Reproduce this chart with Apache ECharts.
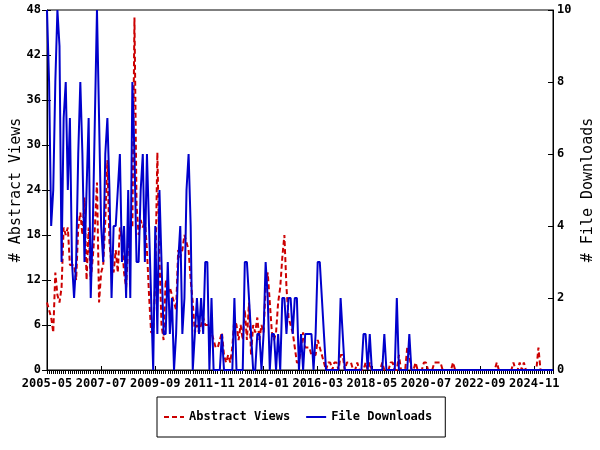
<!DOCTYPE html>
<html><head><meta charset="utf-8">
<script src="https://cdn.jsdelivr.net/npm/echarts@6/dist/echarts.min.js"></script>
<style>html,body{margin:0;padding:0;background:#fff}#c{width:600px;height:450px}</style>
</head><body><div id="c"></div>
<script>
const startYear = 2005, startMonth = 5, monthCount = 244;
const tickLabels = ['2005-05','2007-07','2009-09','2011-11','2014-01','2016-03','2018-05','2020-07','2022-09','2024-11'];
const leftTicks = [0, 6, 12, 18, 24, 30, 36, 42, 48];
const rightTicks = [0, 2, 4, 6, 8, 10];

const abstractViews = [
  9,8,7,5,13,10,9,11,19,18,
  19,14,14,14,12,19,21,18,23,12,
  19,12,15,19,25,9,13,14,20,28,
  17,14,13,16,13,19,17,13,11,17,
  19,19,47,22,18,20,19,20,16,10,
  5,5,12,29,15,6,4,12,10,11,
  10,9,8,16,15,16,18,17,16,12,
  9,5,6,5,6,7,6,6,6,5,
  4,3,3,4,5,2,1,2,1,3,
  7,6,4,6,4,8,4,9,2,6,
  5,7,4,6,5,11,13,9,5,4,
  5,9,11,15,18,11,7,6,5,3,
  1,1,3,5,3,3,3,2,2,2,
  4,3,2,1,0,1,1,0,1,1,
  0,2,2,0,1,1,1,0,0,1,
  0,0,0,1,0,1,0,0,0,0,
  0,1,0,0,0,1,1,0,0,2,
  0,0,0,3,2,0,0,1,0,0,
  0,1,1,0,0,0,1,1,1,1,
  0,0,0,0,0,1,0,0,0,0,
  0,0,0,0,0,0,0,0,0,0,
  0,0,0,0,0,0,1,0,0,0,
  0,0,0,0,1,0,0,1,0,1,
  0,0,0,0,0,0,3,0,0,0,
  0,0,0,0
];
const fileDownloads = [
  10,8,4,5,8,10,9,3,7,8,
  5,7,3,2,3,6,8,6,3,5,
  7,2,4,7,10,7,4,3,6,7,
  5,2,4,4,5,6,3,4,2,5,
  2,8,6,3,3,5,6,3,6,4,
  2,0,4,1,5,3,1,1,3,1,
  2,0,1,3,4,1,2,5,6,4,
  0,1,2,1,2,1,3,3,0,2,
  0,0,0,0,1,0,0,0,0,0,
  2,0,0,0,0,3,3,2,1,0,
  0,1,1,0,1,3,2,0,1,1,
  0,1,0,2,2,1,2,2,1,2,
  2,0,1,0,1,1,1,1,0,1,
  3,3,2,1,0,0,0,0,0,0,
  0,2,1,0,0,0,0,0,0,0,
  0,0,1,1,0,1,0,0,0,0,
  0,0,1,0,0,0,0,0,2,0,
  0,0,0,0,1,0,0,0,0,0,
  0,0,0,0,0,0,0,0,0,0,
  0,0,0,0,0,0,0,0,0,0,
  0,0,0,0,0,0,0,0,0,0,
  0,0,0,0,0,0,0,0,0,0,
  0,0,0,0,0,0,0,0,0,0,
  0,0,0,0,0,0,0,0,0,0,
  0,0,0,0
];

const months = [];
for (let k = 0; k < monthCount; k++) {
  const m = startMonth - 1 + k;
  const y = startYear + Math.floor(m / 12);
  const mm = m % 12 + 1;
  months.push(y + '-' + (mm < 10 ? '0' : '') + mm);
}

const FONT = '"DejaVu Sans Mono", monospace';
const black = '#000';
const dashIcon = 'path://M0,0 L5,0 L5,2 L0,2 Z M8,0 L13,0 L13,2 L8,2 Z M16,0 L20,0 L20,2 L16,2 Z';
const solidIcon = 'path://M0,0 L20,0 L20,2 L0,2 Z';
const chart = echarts.init(document.getElementById('c'), null, {renderer: 'canvas'});
chart.setOption({
  animation: false,
  backgroundColor: '#fff',
  grid: {left: 47, right: 47, top: 10, bottom: 80, outerBoundsMode: 'none', containLabel: false,
    show: true, borderColor: black, borderWidth: 1, backgroundColor: 'transparent'},
  legend: {
    data: [
      {name: 'Abstract Views', icon: dashIcon, itemStyle: {color: '#cc0000'}},
      {name: 'File Downloads', icon: solidIcon, itemStyle: {color: '#0000cc'}}
    ],
    left: 157, top: 397, orient: 'horizontal',
    itemWidth: 20, itemHeight: 2, itemGap: 16,
    padding: [13, 13, 13, 7],
    borderColor: black, borderWidth: 1, backgroundColor: '#fff',
    textStyle: {fontFamily: FONT, fontWeight: 'bold', fontSize: 12, color: black, lineHeight: 14}
  },
  xAxis: [{
    type: 'category', data: months, boundaryGap: false, position: 'bottom',
    axisLine: {show: true, lineStyle: {color: black, width: 1}},
    axisTick: {show: true, interval: 0, length: 4, lineStyle: {color: black, width: 1}},
    axisLabel: {interval: 0, margin: 8, fontFamily: FONT, fontWeight: 'bold', fontSize: 12, color: black,
      formatter: v => tickLabels.includes(v) ? v : ''},
    splitLine: {show: false}
  }, {
    type: 'category', data: months, boundaryGap: false, position: 'bottom',
    axisLine: {show: false},
    axisTick: {show: true, inside: true, length: 4, interval: (i, v) => tickLabels.includes(v), lineStyle: {color: black, width: 1}},
    axisLabel: {show: false}, splitLine: {show: false}
  }],
  yAxis: [{
    type: 'value', min: leftTicks[0], max: leftTicks[leftTicks.length - 1], interval: leftTicks[1] - leftTicks[0], position: 'left',
    axisLine: {show: true, lineStyle: {color: black, width: 1}},
    axisTick: {show: true, length: 5, lineStyle: {color: black, width: 1}},
    axisLabel: {margin: 6, fontFamily: FONT, fontWeight: 'bold', fontSize: 12, color: black},
    splitLine: {show: false},
    name: '# Abstract Views', nameLocation: 'middle', nameRotate: 90, nameGap: 23, nameMoveOverlap: false,
    nameTextStyle: {fontFamily: FONT, fontSize: 15, color: black}
  }, {
    type: 'value', min: rightTicks[0], max: rightTicks[rightTicks.length - 1], interval: rightTicks[1] - rightTicks[0], position: 'right',
    axisLine: {show: true, lineStyle: {color: black, width: 1}},
    axisTick: {show: true, inside: true, length: 5, lineStyle: {color: black, width: 1}},
    axisLabel: {margin: 4, fontFamily: FONT, fontWeight: 'bold', fontSize: 12, color: black},
    splitLine: {show: false},
    name: '# File Downloads', nameLocation: 'middle', nameRotate: 90, nameGap: 28, nameMoveOverlap: false,
    nameTextStyle: {fontFamily: FONT, fontSize: 15, color: black}
  }, {
    type: 'value', min: leftTicks[0], max: leftTicks[leftTicks.length - 1], interval: leftTicks[1] - leftTicks[0], position: 'left',
    axisLine: {show: false},
    axisTick: {show: true, inside: true, length: 4, lineStyle: {color: black, width: 1}},
    axisLabel: {show: false}, splitLine: {show: false}
  }],
  series: [{
    name: 'Abstract Views', type: 'line', xAxisIndex: 0, yAxisIndex: 0, data: abstractViews,
    symbol: 'none', showSymbol: false,
    lineStyle: {color: '#cc0000', width: 2, type: [5, 3]},
    itemStyle: {color: '#cc0000'}
  }, {
    name: 'File Downloads', type: 'line', xAxisIndex: 0, yAxisIndex: 1, data: fileDownloads,
    symbol: 'none', showSymbol: false,
    lineStyle: {color: '#0000cc', width: 2},
    itemStyle: {color: '#0000cc'}
  }]
});
</script>
</body></html>
